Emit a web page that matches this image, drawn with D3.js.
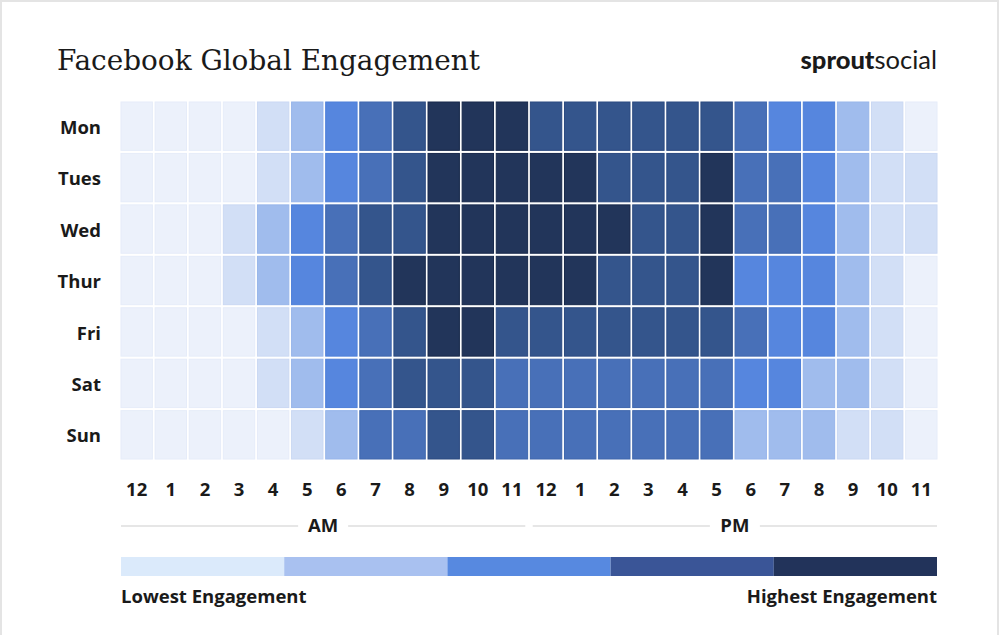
<!DOCTYPE html>
<html>
<head>
<meta charset="utf-8">
<script src="https://cdn.jsdelivr.net/npm/d3@7"></script>
<style>
  body { margin: 0; background: #fff; }
  svg { display: block; }
</style>
</head>
<body>
<div id="vis"></div>
<script>
// engagement level per hour (0 = lowest .. 6 = highest)
const days = ["Mon", "Tues", "Wed", "Thur", "Fri", "Sat", "Sun"];
const hourLabels = ["12","1","2","3","4","5","6","7","8","9","10","11",
                    "12","1","2","3","4","5","6","7","8","9","10","11"];
const mon  = [0,0,0,0,1,2,3,4,5,6,6,6, 5,5,5,5,5,5,4,3,3,2,1,0];
const tues = [0,0,0,0,1,2,3,4,5,6,6,6, 6,6,5,5,5,6,4,4,3,2,1,1];
const wed  = [0,0,0,1,2,3,4,5,5,6,6,6, 6,6,6,5,5,6,4,4,3,2,1,1];
const thur = [0,0,0,1,2,3,4,5,6,6,6,6, 6,6,5,5,5,6,3,3,3,2,1,0];
const fri  = [0,0,0,0,1,2,3,4,5,6,6,5, 5,5,5,5,5,5,4,3,3,2,1,0];
const sat  = [0,0,0,0,1,2,3,4,5,5,5,4, 4,4,4,4,4,4,3,3,2,2,1,0];
const sun  = [0,0,0,0,0,1,2,4,4,5,5,4, 4,4,4,4,4,4,2,2,2,1,1,0];
const periods = ["AM", "PM"];
const legendColors = ["#dbeafb", "#a9c1f0", "#5789e0", "#3a5597", "#22335a"];
const legendLabels = ["Lowest Engagement", "Highest Engagement"];

const levelColors = ["#ecf1fb", "#d2dff6", "#a0bced", "#5686de", "#4870b8", "#34558c", "#22355a"];
const levelStroke = ["#e6ecf9", "#cad8f3", "#97b5ea", "#4d7fd8", "#3f67ad", "#2b4a80", "#17284a"];

const rows = [mon, tues, wed, thur, fri, sat, sun];
const cells = [];
rows.forEach((r, i) => r.forEach((v, h) => cells.push({day: days[i], hour: h, v: v})));

const width = 1000, height = 635;
const left = 121, right = 937;
const labelSize = 18.5;

const svg = d3.select("#vis").append("svg")
    .attr("width", width)
    .attr("height", height)
    .attr("style", "font-family: 'Open Sans', sans-serif;");

// frame
svg.append("rect")
    .attr("x", 1).attr("y", 1)
    .attr("width", 997).attr("height", 660)
    .attr("fill", "#fff")
    .attr("stroke", "#e4e4e4")
    .attr("stroke-width", 2);

svg.append("text")
    .attr("x", 57).attr("y", 70)
    .attr("font-family", "'DejaVu Serif', serif")
    .attr("font-size", 27.9)
    .attr("fill", "#1a1a1a")
    .text("Facebook Global Engagement");

const logo = svg.append("text")
    .attr("x", 937).attr("y", 69)
    .attr("text-anchor", "end")
    .attr("font-family", "Lato, sans-serif")
    .attr("font-size", 25.5)
    .attr("fill", "#1a1a1a");
logo.append("tspan").attr("font-weight", 900).text("sprout");
logo.append("tspan").attr("font-weight", 400).text("social");

const x = d3.scaleBand()
    .domain(d3.range(24))
    .range([left, right])
    .paddingInner(0.08);

const y = d3.scaleBand()
    .domain(days)
    .range([102, 459])
    .paddingInner(0.06);

svg.append("g")
  .selectAll("rect")
  .data(cells)
  .join("rect")
    .attr("x", d => x(d.hour))
    .attr("y", d => y(d.day))
    .attr("width", x.bandwidth())
    .attr("height", y.bandwidth())
    .attr("fill", d => levelColors[d.v])
    .attr("stroke", d => levelStroke[d.v])
    .attr("stroke-width", 1);

// day labels
svg.append("g")
  .selectAll("text")
  .data(days)
  .join("text")
    .attr("x", 101)
    .attr("y", d => y(d) + y.bandwidth() / 2 + 1)
    .attr("dy", "0.36em")
    .attr("text-anchor", "end")
    .attr("font-weight", 700)
    .attr("font-size", labelSize)
    .attr("fill", "#1a1a1a")
    .text(d => d);

// hour labels
svg.append("g")
  .selectAll("text")
  .data(hourLabels)
  .join("text")
    .attr("x", (d, i) => x(i) + x.bandwidth() / 2)
    .attr("y", 496)
    .attr("text-anchor", "middle")
    .attr("font-weight", 700)
    .attr("font-size", labelSize)
    .attr("fill", "#1a1a1a")
    .text(d => d);

// AM / PM brackets
const half = d3.scaleBand().domain(periods).range([left, right]).paddingInner(0.018);
const per = svg.append("g").selectAll("g").data(periods).join("g");
per.append("line")
    .attr("x1", d => half(d)).attr("x2", d => half(d) + half.bandwidth())
    .attr("y1", 526).attr("y2", 526)
    .attr("stroke", "#dedede").attr("stroke-width", 1.5);
per.append("rect")
    .attr("x", d => half(d) + half.bandwidth() / 2 - 25)
    .attr("y", 515).attr("width", 50).attr("height", 22)
    .attr("fill", "#fff");
per.append("text")
    .attr("x", d => half(d) + half.bandwidth() / 2)
    .attr("y", 532)
    .attr("text-anchor", "middle")
    .attr("font-weight", 700)
    .attr("font-size", labelSize)
    .attr("fill", "#1a1a1a")
    .text(d => d);

// legend
const lx = d3.scaleBand().domain(d3.range(legendColors.length)).range([left, right]);
svg.append("g")
  .selectAll("rect")
  .data(legendColors)
  .join("rect")
    .attr("x", (d, i) => lx(i))
    .attr("y", 557)
    .attr("width", lx.bandwidth())
    .attr("height", 19)
    .attr("fill", d => d);

svg.append("g")
  .selectAll("text")
  .data(legendLabels)
  .join("text")
    .attr("x", (d, i) => i === 0 ? left : right)
    .attr("y", 603)
    .attr("text-anchor", (d, i) => i === 0 ? "start" : "end")
    .attr("font-weight", 700)
    .attr("font-size", labelSize)
    .attr("fill", "#1a1a1a")
    .text(d => d);
</script>
</body>
</html>
